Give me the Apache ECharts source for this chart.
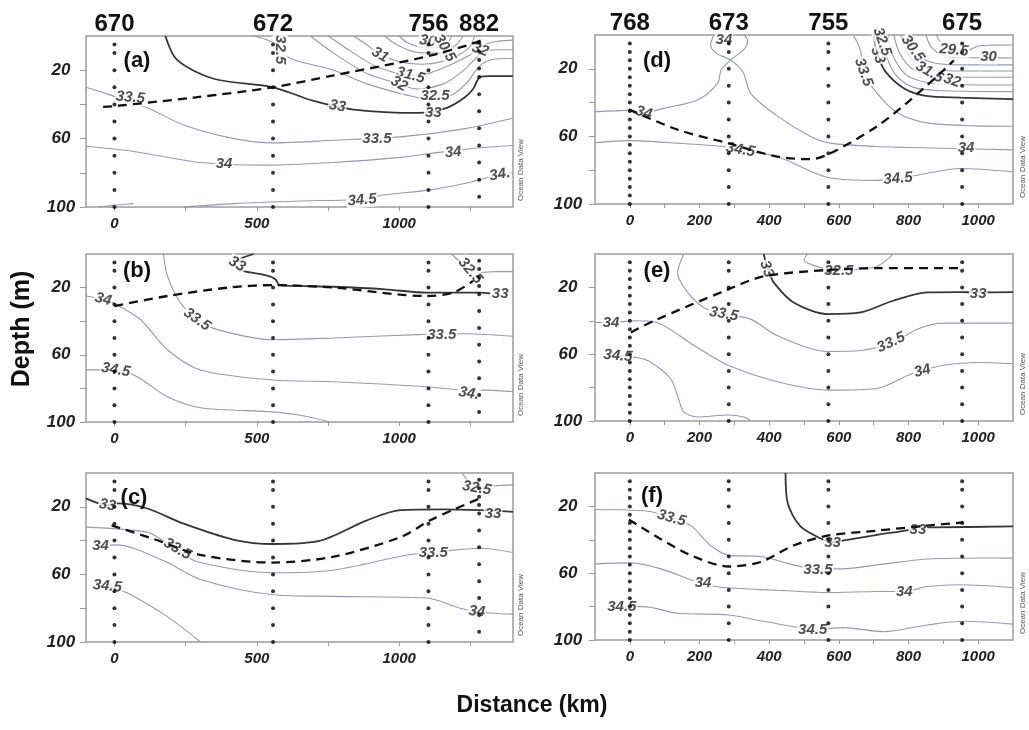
<!DOCTYPE html>
<html><head><meta charset="utf-8">
<script src="https://cdn.jsdelivr.net/npm/echarts@6/dist/echarts.min.js"></script>
<style>html,body{margin:0;padding:0;background:#fff}#c{width:1029px;height:730px}</style>
</head><body><div id="c"></div>
<script>
// ---------- stations ----------
const stationsLeft = [0, 557, 1103, 1281];
const stationNamesLeft = ['670', '672', '756', '882'];
const stationsRight = [0, 284, 570, 954];
const stationNamesRight = ['768', '673', '755', '675'];
const stdDepths = [5, 10, 20, 30, 40, 50, 60, 70, 80, 90, 100];
const depths882 = [4, 9, 14, 19, 24, 34, 44, 54, 64, 74, 84, 94];
const depths768 = [5, 10, 15, 20, 25, 30, 35, 40, 45, 50, 55, 60, 65, 70, 75, 80, 85, 90, 95, 100];
const xTicksLeft = [0, 250, 500, 750, 1000, 1250];
const xLabelsLeft = [0, 500, 1000];
const xTicksRight = [0, 100, 200, 300, 400, 500, 600, 700, 800, 900, 1000];
const xLabelsRight = [0, 200, 400, 600, 800, 1000];
const yTicks = [20, 40, 60, 80, 100];
const yLabels = [20, 60, 100];

// ---------- panel (a) ----------
const A_c30  = [[1000,0],[1030,4],[1080,6.5],[1140,6.5],[1175,3],[1185,0]];
const A_c305 = [[950,0],[990,5],[1060,9.5],[1140,10],[1195,6],[1225,0]];
const A_c31  = [[840,0],[885,5],[935,11],[1000,15],[1080,16.5],[1150,15],[1210,11],[1250,6],[1265,0]];
const A_c315 = [[751,0],[840,10],[922,18],[1040,23],[1100,22],[1179,17],[1250,11],[1300,5],[1350,3],[1400,2.4]];
const A_c32  = [[688,0],[770,10],[887,22],[1000,28],[1063,31],[1155,28],[1220,21],[1270,13],[1300,9],[1350,8],[1400,8]];
const A_c325 = [[489,0],[560,4],[617,13],[770,20],[887,28],[1063,36],[1126,37],[1190,34],[1240,27],[1280,18],[1320,14],[1400,13]];
const A_c33  = [[179,0],[220,14],[348,25],[557,30],[700,38],[840,43],[1067,45],[1168,42],[1230,36],[1260,31],[1284,24],[1320,23.5],[1400,23.5]];
const A_c335 = [[-100,30],[-25,34],[115,42],[243,52],[420,60],[557,62.5],[770,61],[1004,59],[1238,54],[1400,48]];
const A_c34  = [[-100,64.5],[67,67.5],[302,74],[536,75.5],[770,74],[1004,71],[1120,68.5],[1273,65.5],[1400,64]];
const A_c345 = [[243,100],[420,98],[653,96.5],[870,95.5],[944,93],[1109,90],[1238,86],[1330,82],[1400,80]];
const A_c345b = [[-60,100],[0,99],[67,98]];
const A_mld  = [[-40,41.5],[0,41],[280,36],[557,30],[770,23],[1000,15.5],[1109,11.5],[1238,5.5],[1290,2.5]];
const A_labels = [['33.5',56,36,-5],['33',783,41,-10],['33',1120,45,0],['33.5',922,60,0],['34',385,75,0],['34',1190,68,5],
  ['34.5',870,96,5],['34.',1354,81,10],['32.5',1126,35,0],['32.5',582,8,-90],['31',933,11,-30],['31.5',1040,23,-15],
  ['32',1000,28,-30],['30',1100,3,-10],['30.5',1160,7,-60],['32',1285,8,-20]];

// ---------- panel (b) ----------
const B_c325 = [[1185,0],[1215,5],[1250,10],[1290,11],[1340,10.5],[1400,10.5]];
const B_c33  = [[489,0],[440,3],[420,6],[440,9.5],[477,11],[540,13],[565,15],[580,18.5],[650,19],[770,19.5],[950,21],[1097,23],[1284,23],[1320,23.5]];
const B_c335 = [[172,0],[186,13],[232,29],[290,39],[361,45],[557,51],[770,50],[1063,48],[1238,47.5],[1400,49]];
const B_c34  = [[-100,25],[-40,27],[5,30],[91,39],[186,57],[302,69],[557,75],[770,76],[1097,79],[1238,81],[1309,81],[1400,82]];
const B_c345 = [[-100,69],[5,69],[80,73],[186,85],[302,91.5],[557,94],[653,96],[758,100]];
const B_mld  = [[0,31],[186,25],[400,20],[557,18.5],[770,20],[1097,25],[1190,23],[1260,16]];
const B_labels = [['33',431,6,-30],['32.5',1250,10,-50],['33',1355,24,0],['34',-40,27,-15],['33.5',290,39,-35],
  ['33.5',1150,48,0],['34.5',5,69,-10],['34.',1245,83,-10]];

// ---------- panel (c) ----------
const C_c325 = [[1221,0],[1240,4],[1260,7],[1300,8.5],[1340,7.5],[1400,7]];
const C_c33  = [[-100,15],[-25,19],[10,18],[115,21],[243,30],[420,39.5],[557,42],[712,40.5],[887,28],[1004,22],[1150,21.5],[1284,22],[1400,23]];
const C_c335 = [[-100,32],[115,35],[170,40],[221,45.5],[291,52.5],[557,59],[770,57.5],[1028,48.5],[1120,47],[1284,44.5],[1400,47]];
const C_c34  = [[-49,43],[4,42.5],[67,44.5],[186,53],[302,63],[557,72],[770,73],[1097,74],[1214,80],[1273,82],[1330,83],[1400,83.5]];
const C_c345 = [[-25,67],[45,71],[186,85],[302,100]];
const C_mld  = [[-10,31],[137,39],[302,48.5],[557,53],[770,49.5],[1004,38],[1109,28],[1200,21],[1284,15]];
const C_labels = [['33',-25,19,-10],['32.5',1273,9,-10],['33',1330,24,0],['33.5',221,45,-30],['33.5',1120,47,0],
  ['34',-49,43,0],['34',1273,82,-5],['34.5',-25,67,-5]];

// ---------- panel (d) ----------
const D_c295 = [[880,0],[895,5],[930,9],[970,9],[1000,6.5],[1040,6],[1100,5.9]];
const D_c30  = [[850,0],[865,7],[900,12],[960,13.5],[1030,13.5],[1100,13.6]];
const D_c305 = [[800,0],[815,9],[850,15],[910,17.5],[1000,17.7],[1100,17.7]];
const D_c31  = [[778,0],[795,10],[830,18],[890,21],[1000,21.3],[1100,21.3]];
const D_c315 = [[758,0],[775,11],[810,20],[865,24],[950,25],[1100,25]];
const D_c32  = [[740,0],[755,12],[790,23],[850,28],[930,29.3],[1100,29.6]];
const D_c325 = [[722,0],[735,12],[765,24],[815,31],[900,33],[1100,33.5]];
const D_c33  = [[700,0],[712,12],[735,22],[790,32],[850,36],[950,37],[1100,38]];
const D_c335 = [[642,0],[662,9],[671,22],[710,34.5],[768,46],[854,52],[997,53.8],[1100,54]];
const D_c34a = [[-100,45.5],[-7,44.6],[40,46],[97,43.4],[194,38.5],[252,28.6],[262,20.7],[289,14.8],[330,8],[338,3],[327,0]];
const D_c34b = [[241,0],[232,6],[250,11],[289,14.8],[325,22],[347,34.5],[424,48],[519,60],[576,64],[710,66],[900,67],[1100,68]];
const D_c345 = [[-100,63.7],[-7,62.5],[137,64],[270,66],[318,68],[424,72],[576,84.6],[710,86],[768,85],[825,83],[948,79],[1100,81]];
const D_mld  = [[-3,44],[137,56],[281,64],[424,72],[519,73.5],[576,70],[710,54],[805,38.5],[900,21],[930,15]];
const D_labels = [['34',40,46,-15],['34',270,3,0],['34.5',318,68,-10],['34',965,67,0],['34.5',770,85,5],['33.5',671,22,-70],
  ['33',712,12,-70],['32.5',724,4,-70],['30.5',812,8,-55],['31.5',860,22,-30],['32',925,27,-20],['29.5',930,9,-5],['30',1030,13,0]];

// ---------- panel (e) ----------
const E_c325 = [[510,0],[500,3.6],[538,7.5],[600,10],[660,9],[710,7.5],[756,0]];
const E_c33  = [[384,0],[392,6],[400,11],[413,17],[470,29],[571,36],[662,35],[756,28],[854,23],[948,22.8],[1000,23],[1100,22.8]];
const E_c335 = [[155,0],[137,11.4],[166,23],[212,32],[270,36],[347,39],[424,49],[571,58.4],[662,57.8],[756,53],[825,45],[900,41.4],[1100,41.4]];
const E_c34  = [[-100,41],[-54,41],[12,40],[69,40.6],[183,54.6],[281,66.5],[424,76.5],[571,81.5],[710,80.5],[805,72],[843,69.6],[900,66.6],[997,65],[1100,65.7]];
const E_c345 = [[-34,61],[20,62],[60,64.8],[117,74.6],[137,84.9],[155,94.6],[194,97.6],[281,96.4],[327,97.6],[347,100]];
const E_mld  = [[3,47],[69,40],[281,21.3],[384,13.4],[571,9.5],[710,8.5],[957,8.5]];
const E_labels = [['34',-54,41,0],['34.5',-34,61,-5],['33.5',270,36,-10],['33',393,9,-70],['32.5',600,10,0],['33',1000,24,0],
  ['33.5',750,53,25],['34',840,70,15]];

// ---------- panel (f) ----------
const F_c33  = [[447,0],[453,17.8],[490,32],[556,40],[582,41.4],[624,40],[710,37],[805,34],[825,32.5],[871,32.5],[1100,32]];
const F_c335 = [[-100,21.9],[52,22.9],[117,26.6],[175,31.5],[232,43.4],[284,49.3],[375,50],[470,55],[533,57.4],[613,57.4],[710,55],[854,51.5],[997,50.9],[1100,51]];
const F_c34  = [[-100,54.4],[3,53.8],[89,57.4],[209,66.3],[270,68.6],[424,70.2],[571,71.6],[710,71],[785,71],[854,68],[948,66.9],[1100,68.6]];
const F_c345 = [[-26,80],[40,80],[137,84],[284,85],[384,88.8],[539,93.5],[613,92.6],[728,95],[854,91],[957,88.8],[1100,90.5]];
const F_mld  = [[-3,27.8],[89,39.6],[183,50],[284,56],[375,53.3],[470,43.4],[571,37.4],[710,34.5],[854,31.5],[957,29.6]];
const F_labels = [['33.5',120,27,-15],['33.5',540,58,0],['34',210,66,0],['34',788,71,0],['34.5',-23,80,0],['34.5',525,94,0],
  ['33',582,42,0],['33',827,34,0]];

// ---------- layout ----------
const FONT = 'Liberation Sans, Arial, sans-serif';
const panels = [
  {g:{left:86, top:36, height:171}, side:'L', tag:'(a)', tagPos:[137,61],
   contours:[[30,A_c30],[30.5,A_c305],[31,A_c31],[31.5,A_c315],[32,A_c32],[32.5,A_c325],[33,A_c33],[33.5,A_c335],[34,A_c34],[34.5,A_c345],[34.5,A_c345b]],
   labels:A_labels, mld:A_mld},
  {g:{left:86, top:254, height:168}, side:'L', tag:'(b)', tagPos:[137,271],
   contours:[[32.5,B_c325],[33,B_c33],[33.5,B_c335],[34,B_c34],[34.5,B_c345]], labels:B_labels, mld:B_mld},
  {g:{left:86, top:473, height:169}, side:'L', tag:'(c)', tagPos:[134,498],
   contours:[[32.5,C_c325],[33,C_c33],[33.5,C_c335],[34,C_c34],[34.5,C_c345]], labels:C_labels, mld:C_mld},
  {g:{left:595, top:35, height:169}, side:'R', tag:'(d)', tagPos:[657,61],
   contours:[[29.5,D_c295],[30,D_c30],[30.5,D_c305],[31,D_c31],[31.5,D_c315],[32,D_c32],[32.5,D_c325],[33,D_c33],[33.5,D_c335],[34,D_c34a],[34,D_c34b],[34.5,D_c345]],
   labels:D_labels, mld:D_mld},
  {g:{left:595, top:254, height:167}, side:'R', tag:'(e)', tagPos:[657,271],
   contours:[[32.5,E_c325],[33,E_c33],[33.5,E_c335],[34,E_c34],[34.5,E_c345]], labels:E_labels, mld:E_mld},
  {g:{left:595, top:473, height:167}, side:'R', tag:'(f)', tagPos:[652,496],
   contours:[[33,F_c33],[33.5,F_c335],[34,F_c34],[34.5,F_c345]], labels:F_labels, mld:F_mld}
];

const grid = [], xAxis = [], yAxis = [], series = [], graphic = [];
panels.forEach((p, i) => {
  const L = p.side === 'L';
  grid.push({left:p.g.left, top:p.g.top, width: L ? 427 : 418, height:p.g.height,
    show:true, borderColor:'#9c9c9c', borderWidth:1.5, backgroundColor:'rgba(0,0,0,0)'});
  xAxis.push({type:'value', gridIndex:i, min:-100, max: L ? 1400 : 1100, position:'bottom',
    splitLine:{show:false}, axisLine:{show:false, onZero:false},
    axisTick:{show:true, customValues: L ? xTicksLeft : xTicksRight, length:4, lineStyle:{color:'#999'}},
    axisLabel:{customValues: L ? xLabelsLeft : xLabelsRight, formatter: v => String(v), margin:9, fontSize:15,
      fontStyle:'italic', fontWeight:'bold', color:'#222', fontFamily:FONT}});
  yAxis.push({type:'value', gridIndex:i, min:0, max:100, inverse:true, position:'left',
    splitLine:{show:false}, axisLine:{show:false, onZero:false},
    axisTick:{show:true, customValues:yTicks, length:6, lineStyle:{color:'#999'}},
    axisLabel:{customValues:yLabels, formatter: v => String(v), align:'center', margin: L ? 25 : 27, fontSize:17,
      fontStyle:'italic', fontWeight:'bold', color:'#222', fontFamily:FONT}});
  p.contours.forEach(([lvl, pts]) => {
    series.push({type:'line', xAxisIndex:i, yAxisIndex:i, data:pts, smooth:0.3, symbol:'none', silent:true, z:2,
      lineStyle:{color: lvl === 33 ? '#363636' : '#9898b0', width: lvl === 33 ? 1.8 : 1.1}});
  });
  series.push({type:'scatter', xAxisIndex:i, yAxisIndex:i, symbolSize:1, silent:true, z:3,
    itemStyle:{color:'rgba(0,0,0,0)'},
    data:p.labels.map(([t, x, d, r]) => ({name:t, value:[x, d], label:{rotate:r}})),
    label:{show:true, position:'inside', formatter:'{b}', fontSize:15, fontStyle:'italic', fontWeight:'bold',
      color:'#222', fontFamily:FONT, backgroundColor:'#fff', padding:[0,1]}});
  series.push({type:'line', xAxisIndex:i, yAxisIndex:i, data:p.mld, smooth:0.3, symbol:'none', silent:true, z:5,
    lineStyle:{color:'#111', width:2.3, type:[9,6]}});
  const st = L ? stationsLeft : stationsRight;
  const dsets = L ? [stdDepths, stdDepths, stdDepths, depths882] : [depths768, stdDepths, stdDepths, stdDepths];
  const dots = [];
  st.forEach((x, k) => dsets[k].forEach(d => dots.push([x, d])));
  series.push({type:'scatter', xAxisIndex:i, yAxisIndex:i, data:dots, symbolSize:4, silent:true, z:6,
    itemStyle:{color:'#000'}});
  graphic.push({type:'text', x:p.tagPos[0], y:p.tagPos[1], z:10,
    style:{text:p.tag, fontSize:22, fontWeight:'bold', fill:'#111', fontFamily:FONT, align:'center', verticalAlign:'middle'}});
  graphic.push({type:'text', x: L ? 521 : 1023, y: p.g.top + p.g.height - 37, rotation:Math.PI/2,
    style:{text:'Ocean Data View', fontSize:8, fill:'#555', fontFamily:FONT, align:'center', verticalAlign:'middle'}});
});
// station name axes on top of (a) and (d)
[[0, stationsLeft, stationNamesLeft, 1400], [3, stationsRight, stationNamesRight, 1100]].forEach(([gi, st, names, mx]) => {
  xAxis.push({type:'value', gridIndex:gi, min:-100, max:mx, position:'top',
    splitLine:{show:false}, axisLine:{show:false, onZero:false}, axisTick:{show:false},
    axisLabel:{customValues:st, margin:0, fontSize:24, fontWeight:'bold', color:'#111', fontFamily:FONT,
      formatter:v => names[st.indexOf(v)]}});
});
graphic.push({type:'text', x:22, y:329, rotation:Math.PI/2,
  style:{text:'Depth (m)', fontSize:25, fontWeight:'bold', fill:'#111', fontFamily:FONT, align:'center', verticalAlign:'middle'}});
graphic.push({type:'text', x:532, y:706,
  style:{text:'Distance (km)', fontSize:23, fontWeight:'bold', fill:'#111', fontFamily:FONT, align:'center', verticalAlign:'middle'}});

const chart = echarts.init(document.getElementById('c'), null, {renderer:'canvas'});
chart.setOption({animation:false, backgroundColor:'#fff', grid, xAxis, yAxis, series, graphic});
</script></body></html>
